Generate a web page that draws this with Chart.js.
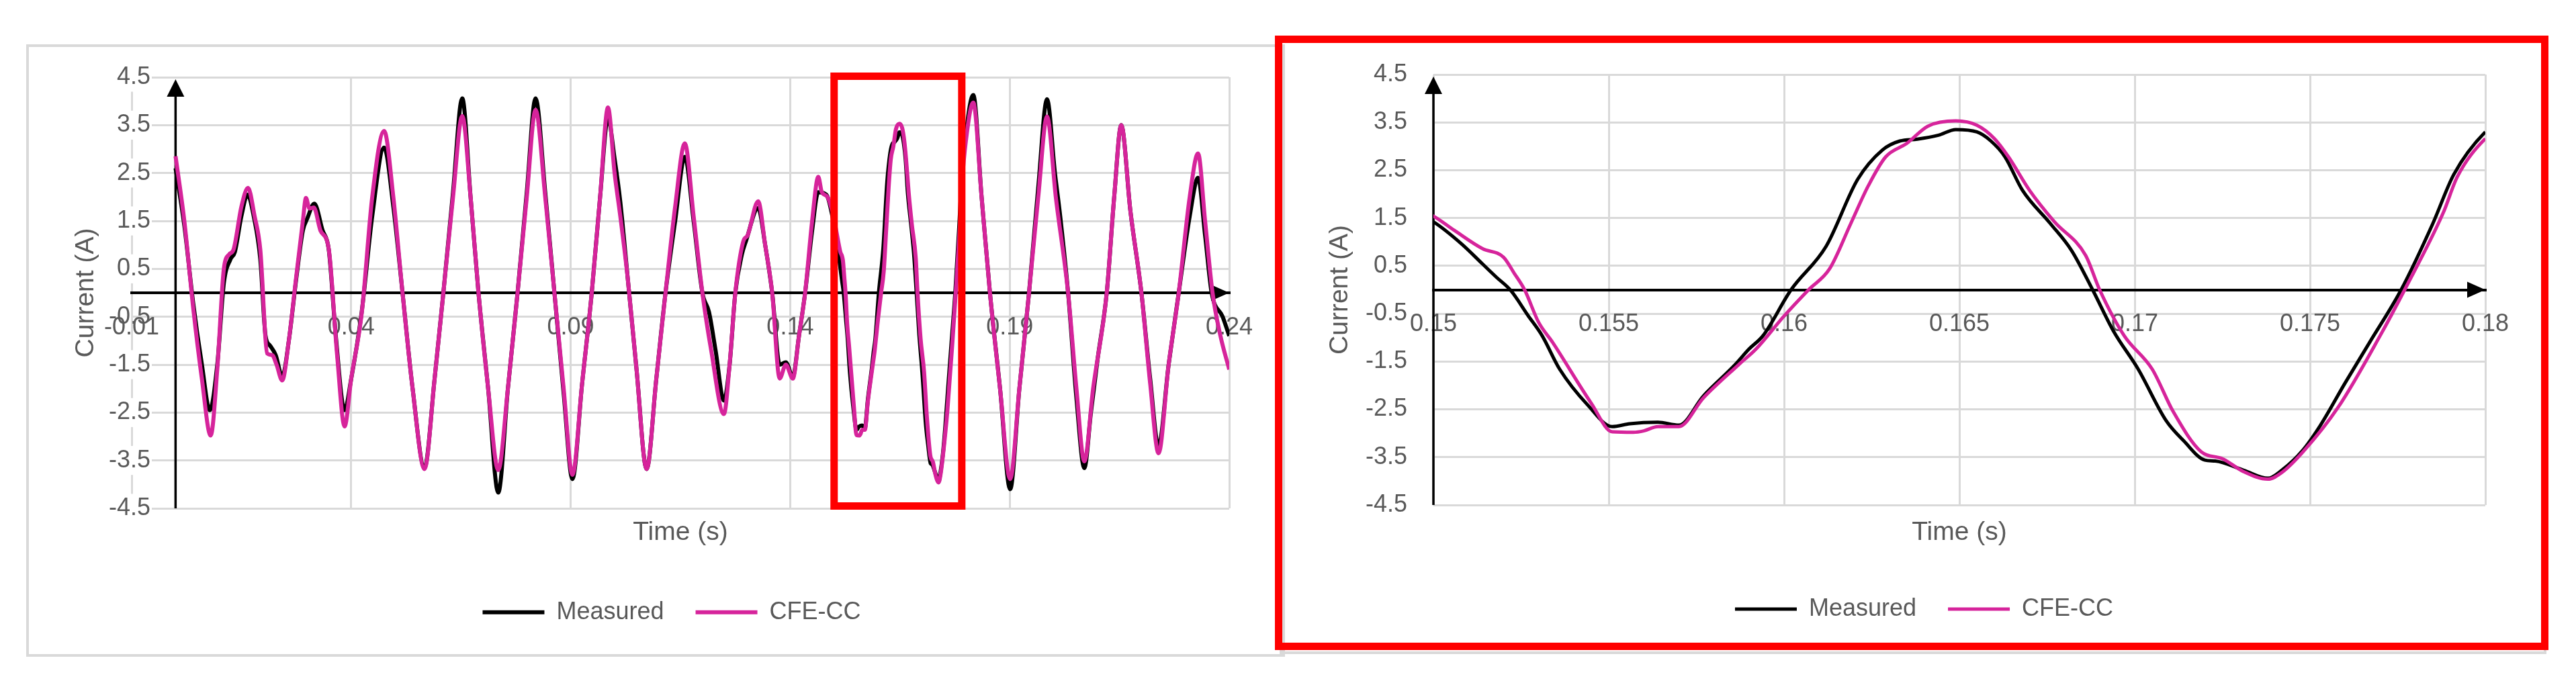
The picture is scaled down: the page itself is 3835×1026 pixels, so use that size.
<!DOCTYPE html>
<html>
<head>
<meta charset="utf-8">
<script src="https://cdn.jsdelivr.net/npm/chart.js@4.4.1/dist/chart.umd.min.js"></script>
<style>
html,body{margin:0;padding:0;background:#fff;width:3835px;height:1026px;overflow:hidden;}
canvas{position:absolute;left:0;top:0;}
.frame{position:absolute;box-sizing:border-box;pointer-events:none;}
</style>
</head>
<body>
<div class="frame" style="left:39px;top:66px;width:1874px;height:912px;border:4px solid #d9d9d9"></div>
<div class="frame" style="left:1905px;top:57px;width:1886px;height:917px;border:4px solid #d9d9d9"></div>
<canvas id="c1" width="3835" height="1026"></canvas>
<canvas id="c2" width="3835" height="1026"></canvas>
<div class="frame" style="left:1898px;top:53px;width:1896px;height:915px;border:11px solid #ff0000"></div>
<script>
// ---------- DATA ----------
const seriesNames = ['Measured', 'CFE-CC'];
const xTitle = 'Time (s)';
const yTitle = 'Current (A)';

const measuredTime = [
0.0000,0.0020,0.0040,0.0060,0.0078,0.0095,0.0110,0.0125,0.0135,0.0150,0.0164,0.0178,0.0193,0.0205,0.0215,0.0228,0.0243,0.0258,0.0275,0.0290,
0.0300,0.0316,0.0335,0.0349,0.0365,0.0385,0.0400,0.0424,0.0448,0.0475,0.0496,0.0517,0.0540,0.0567,0.0590,0.0610,0.0632,0.0653,0.0672,0.0690,
0.0712,0.0735,0.0757,0.0779,0.0800,0.0820,0.0842,0.0863,0.0884,0.0904,0.0926,0.0948,0.0967,0.0985,0.1000,0.1013,0.1030,0.1050,0.1073,0.1095,
0.1116,0.1138,0.1160,0.1180,0.1200,0.1215,0.1230,0.1249,0.1262,0.1275,0.1290,0.1300,0.1327,0.1343,0.1359,0.1376,0.1390,0.1406,0.1420,0.1434,
0.1450,0.1464,0.1482,0.1500,0.1508,0.1514,0.1518,0.1522,0.1527,0.1531,0.1536,0.1544,0.1551,0.1556,0.1564,0.1570,0.1577,0.1586,0.1590,0.1594,
0.1602,0.1612,0.1621,0.1628,0.1633,0.1638,0.1644,0.1649,0.1655,0.1659,0.1663,0.1668,0.1676,0.1682,0.1688,0.1694,0.1701,0.1709,0.1714,0.1720,
0.1723,0.1731,0.1738,0.1742,0.1748,0.1753,0.1760,0.1767,0.1776,0.1785,0.1791,0.1800,0.1817,0.1836,0.1855,0.1878,0.1901,0.1922,0.1944,0.1965,
0.1985,0.2003,0.2015,0.2033,0.2052,0.2070,0.2085,0.2100,0.2121,0.2138,0.2154,0.2175,0.2200,0.2220,0.2239,0.2262,0.2285,0.2310,0.2329,0.2345,
0.2360,0.2385,0.2400];
const measuredCurrent = [
2.60,1.40,-0.20,-1.50,-2.45,-1.50,0.20,0.70,0.85,1.60,2.05,1.60,0.70,-0.90,-1.10,-1.30,-1.75,-1.00,0.30,1.30,
1.55,1.86,1.30,0.90,-0.90,-2.45,-1.80,-0.40,1.60,3.03,1.80,0.00,-2.00,-3.65,-1.80,0.00,2.10,4.06,2.00,0.00,
-2.00,-4.17,-2.00,0.00,2.10,4.06,2.10,0.00,-2.10,-3.89,-1.90,0.00,2.00,3.65,2.80,1.90,0.30,-1.60,-3.68,-1.80,
0.00,1.50,2.84,1.50,0.00,-0.40,-1.20,-2.25,-1.50,0.00,0.80,1.10,1.77,1.00,0.00,-1.50,-1.45,-1.75,-0.90,0.00,
1.30,2.10,2.05,1.42,0.96,0.54,0.26,-0.01,-0.54,-0.96,-1.66,-2.41,-2.86,-2.80,-2.77,-2.83,-2.22,-1.57,-1.24,-0.96,
0.00,0.91,2.31,2.92,3.11,3.15,3.23,3.35,3.30,3.11,2.78,2.08,1.38,0.82,0.00,-0.87,-1.66,-2.74,-3.16,-3.56,
-3.58,-3.77,-3.94,-3.77,-3.35,-2.83,-1.95,-1.10,0.00,1.38,2.41,3.30,4.13,2.00,0.00,-2.00,-4.10,-2.00,0.00,2.20,
4.04,2.50,1.60,0.00,-2.20,-3.66,-2.50,-1.40,0.00,2.00,3.50,1.70,0.00,-1.80,-3.20,-1.50,0.00,1.60,2.40,1.20,
0.00,-0.50,-0.90];

const cfeTime = [
0.0000,0.0020,0.0040,0.0060,0.0080,0.0095,0.0110,0.0122,0.0132,0.0150,0.0165,0.0180,0.0193,0.0209,0.0220,0.0230,0.0243,0.0258,0.0274,0.0290,
0.0297,0.0305,0.0315,0.0330,0.0349,0.0368,0.0385,0.0400,0.0424,0.0448,0.0475,0.0496,0.0517,0.0540,0.0567,0.0590,0.0610,0.0632,0.0653,0.0672,
0.0690,0.0712,0.0735,0.0757,0.0779,0.0800,0.0820,0.0842,0.0863,0.0884,0.0904,0.0926,0.0948,0.0967,0.0985,0.1000,0.1013,0.1030,0.1050,0.1073,
0.1095,0.1116,0.1138,0.1160,0.1180,0.1200,0.1220,0.1249,0.1262,0.1275,0.1293,0.1303,0.1327,0.1343,0.1359,0.1376,0.1390,0.1406,0.1420,0.1434,
0.1450,0.1464,0.1472,0.1485,0.1500,0.1506,0.1514,0.1520,0.1523,0.1526,0.1530,0.1534,0.1545,0.1551,0.1557,0.1560,0.1564,0.1570,0.1577,0.1587,
0.1592,0.1600,0.1607,0.1613,0.1619,0.1624,0.1629,0.1635,0.1641,0.1649,0.1655,0.1660,0.1664,0.1670,0.1677,0.1686,0.1690,0.1697,0.1705,0.1711,
0.1719,0.1725,0.1731,0.1738,0.1742,0.1748,0.1758,0.1770,0.1777,0.1788,0.1792,0.1800,0.1817,0.1836,0.1855,0.1878,0.1901,0.1922,0.1944,0.1965,
0.1985,0.2005,0.2033,0.2052,0.2070,0.2090,0.2121,0.2138,0.2154,0.2175,0.2200,0.2220,0.2239,0.2262,0.2285,0.2310,0.2329,0.2345,0.2362,0.2380,
0.2400];
const cfeCurrent = [
2.85,1.50,-0.30,-1.80,-2.98,-1.60,0.50,0.80,0.90,1.80,2.19,1.60,0.90,-1.27,-1.30,-1.50,-1.83,-1.00,0.27,1.50,
1.98,1.76,1.78,1.30,0.91,-1.30,-2.79,-1.80,-0.43,2.00,3.38,2.00,0.00,-2.00,-3.68,-1.80,0.00,2.00,3.69,2.00,
0.00,-2.00,-3.70,-2.00,0.00,2.00,3.82,2.00,0.00,-2.00,-3.80,-1.90,0.00,2.00,3.87,2.50,1.60,0.30,-1.60,-3.68,
-1.80,0.00,1.80,3.12,1.60,0.00,-1.20,-2.53,-1.50,0.00,1.07,1.20,1.91,1.00,0.00,-1.79,-1.50,-1.79,-0.90,0.00,
1.50,2.42,2.10,2.00,1.54,1.24,0.86,0.68,0.35,0.00,-0.68,-1.10,-2.37,-2.97,-2.98,-2.95,-2.86,-2.86,-2.26,-1.57,
-1.24,-0.55,0.00,0.44,1.38,2.17,2.78,3.06,3.42,3.53,3.44,3.16,2.78,2.08,1.43,0.72,0.00,-0.96,-1.66,-2.55,
-3.39,-3.53,-3.80,-3.96,-3.82,-3.39,-2.46,-0.96,0.00,1.61,2.36,3.16,3.97,2.00,0.00,-2.00,-3.89,-2.00,0.00,2.00,
3.68,2.00,0.00,-2.00,-3.52,-2.00,0.00,2.00,3.50,1.70,0.00,-1.90,-3.35,-1.50,0.00,2.00,2.91,1.50,0.00,-0.90,
-1.60];

const xTicksFull = [-0.01, 0.04, 0.09, 0.14, 0.19, 0.24];
const xTicksZoom = [0.15, 0.155, 0.16, 0.165, 0.17, 0.175, 0.18];
const yTicks = [-4.5, -3.5, -2.5, -1.5, -0.5, 0.5, 1.5, 2.5, 3.5, 4.5];
const zoomWindow = [0.15, 0.18];

// ---------- STYLE / HELPERS ----------
Chart.defaults.font.family = "'Liberation Sans', Arial, sans-serif";
Chart.defaults.color = '#595959';
const GRID = '#d9d9d9';
const TXT = '#595959';
const MAG = '#d6249b';

const toPts = (ts, vs) => ts.map((t, i) => ({x: t, y: vs[i]}));

const axisDecor = {
  id: 'axisDecor',
  beforeDatasetsDraw(chart, args, opts) {
    const {ctx, chartArea, scales} = chart;
    const x = scales.x, y = scales.y;
    const px = x.getPixelForValue(opts.yAxisAt);
    const tip = chartArea.top + 3;
    ctx.save();
    ctx.strokeStyle = '#000';
    ctx.fillStyle = '#000';
    ctx.lineWidth = 3.5;
    ctx.beginPath();
    ctx.moveTo(px, chartArea.bottom);
    ctx.lineTo(px, tip + 20);
    ctx.stroke();
    ctx.beginPath();
    ctx.moveTo(px, tip);
    ctx.lineTo(px - 13, tip + 26);
    ctx.lineTo(px + 13, tip + 26);
    ctx.closePath();
    ctx.fill();
    const py = y.getPixelForValue(0);
    const r = chartArea.right;
    ctx.beginPath();
    ctx.moveTo(r, py);
    ctx.lineTo(r - 27, py - 12);
    ctx.lineTo(r - 27, py + 12);
    ctx.closePath();
    ctx.fill();
    ctx.restore();
  },
  afterDatasetsDraw(chart, args, opts) {
    if (!opts.box) return;
    const {ctx, scales} = chart;
    const x1 = scales.x.getPixelForValue(opts.box[0]);
    const x2 = scales.x.getPixelForValue(opts.box[1]) - 6;
    const y1 = scales.y.getPixelForValue(4.5) - 1.5;
    const y2 = scales.y.getPixelForValue(-4.5) - 3.5;
    ctx.save();
    ctx.strokeStyle = '#ff0000';
    ctx.lineWidth = 11;
    ctx.strokeRect(x1, y1, x2 - x1, y2 - y1);
    ctx.restore();
  }
};

function makeChart(id, cfg) {
  return new Chart(document.getElementById(id), {
    type: 'line',
    data: {
      datasets: [
        {label: seriesNames[0], data: toPts(measuredTime, measuredCurrent), borderColor: '#000000', backgroundColor: '#000000',
         borderWidth: cfg.lineW, pointRadius: 0, cubicInterpolationMode: 'monotone', order: 1},
        {label: seriesNames[1], data: toPts(cfeTime, cfeCurrent), borderColor: MAG, backgroundColor: MAG,
         borderWidth: cfg.lineW, pointRadius: 0, cubicInterpolationMode: 'monotone', order: 0}
      ]
    },
    options: {
      responsive: false,
      animation: false,
      events: [],
      layout: {padding: cfg.padding},
      scales: {
        x: {
          type: 'linear', position: {y: 0}, min: cfg.xMin, max: cfg.xMax,
          afterBuildTicks: s => { s.ticks = cfg.xTicks.map(v => ({value: v})); },
          grid: {color: GRID, lineWidth: 3, drawTicks: false},
          border: {display: true, color: '#000000', width: 4},
          ticks: {font: {size: 36}, color: TXT, padding: 30, maxRotation: 0, autoSkip: false, callback: v => String(v)}
        },
        y: {
          type: 'linear', position: 'left', min: -4.5, max: 4.5,
          afterBuildTicks: s => { s.ticks = yTicks.map(v => ({value: v})); },
          afterFit: s => { s.width = cfg.yWidth; },
          grid: {color: GRID, lineWidth: 3, drawTicks: false},
          border: {display: false},
          ticks: {font: {size: 36}, color: TXT, padding: cfg.yPad, mirror: cfg.yMirror, crossAlign: cfg.yMirror ? 'far' : 'near',
                  callback: v => String(v),
                  showLabelBackdrop: true,
                  backdropColor: c => (c.tick && c.tick.value === -0.5) ? 'rgba(255,255,255,0)' : '#ffffff',
                  backdropPadding: {top: 0, bottom: 0, left: 2, right: 2}},
          title: {display: true, text: yTitle, font: {size: 39}, color: TXT, padding: {top: cfg.yTitlePad, bottom: 0}}
        },
        yR: {
          type: 'linear', position: 'right', display: true,
          grid: {display: false}, ticks: {display: false}, border: {display: false},
          afterFit: s => { s.width = cfg.rightWidth; }
        }
      },
      plugins: {
        legend: {
          position: 'bottom',
          labels: {usePointStyle: true, pointStyle: 'line', pointStyleWidth: 92, font: {size: 36}, color: TXT, padding: 47,
                   sort: (a, b) => a.datasetIndex - b.datasetIndex}
        },
        subtitle: {display: true, position: 'bottom', text: xTitle, fullSize: false, weight: 500,
                   font: {size: 39, weight: 'normal'}, color: TXT, padding: {top: cfg.subTop, bottom: cfg.subBottom}},
        title: {display: false},
        tooltip: {enabled: false},
        axisDecor: {yAxisAt: cfg.yAxisAt, box: cfg.box}
      }
    },
    plugins: [axisDecor]
  });
}

makeChart('c1', {
  padding: {left: 89, right: 1924, top: 115, bottom: 86.3},
  xMin: xTicksFull[0], xMax: xTicksFull[xTicksFull.length - 1], xTicks: xTicksFull,
  yWidth: 107, yPad: -34, yMirror: true, yTitlePad: 15.6, rightWidth: 81,
  subTop: 12.6, subBottom: 30.3, lineW: 6,
  yAxisAt: 0, box: zoomWindow
});

makeChart('c2', {
  padding: {left: 1940, right: 46, top: 111, bottom: 91},
  xMin: zoomWindow[0], xMax: zoomWindow[1], xTicks: xTicksZoom,
  yWidth: 194, yPad: 39, yMirror: false, yTitlePad: 31.6, rightWidth: 89,
  subTop: 17.6, subBottom: 25.6, lineW: 5,
  yAxisAt: zoomWindow[0], box: null
});
</script>
</body>
</html>
